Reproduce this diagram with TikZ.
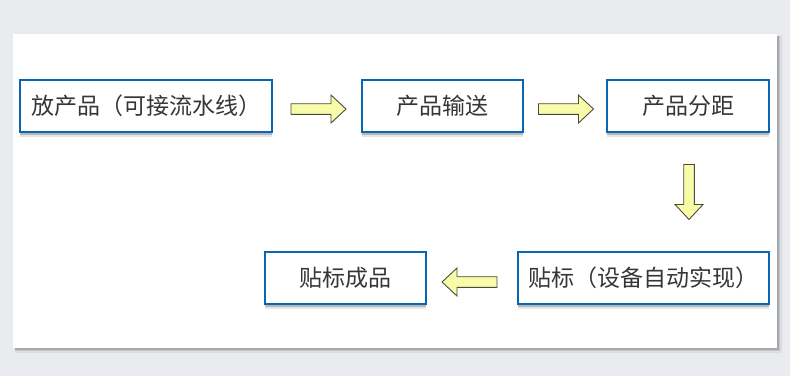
\documentclass[tikz,border=0pt]{standalone}
\usepackage{fontspec}
\setmainfont{Noto Sans CJK SC}
\usetikzlibrary{calc}
\definecolor{bgc}{HTML}{EAEBEF}
\definecolor{boxblue}{HTML}{0A66B2}
\definecolor{txt}{HTML}{363636}
\definecolor{arrfill}{HTML}{F8FCA8}
\definecolor{arredge}{HTML}{4A4A40}
\tikzset{
  stepbox/.style={draw=boxblue, line width=2pt, fill=white, text=txt,
    minimum height=52pt, inner sep=0pt,
    font=\fontsize{23}{28}\selectfont,
    preaction={fill=black, opacity=0.10, transform canvas={yshift=-5pt}},
    preaction={fill=black, opacity=0.20, transform canvas={yshift=-3pt}}},
  barrow/.pic={
    \draw[fill=arrfill, draw=arredge, line width=0.9pt, line join=miter]
      (-27.5,-5.3) -- (12.5,-5.3) -- (12.5,-14) -- (27.5,0) -- (12.5,14)
      -- (12.5,5.3) -- (-27.5,5.3) -- cycle;
  }
}
\begin{document}
\begin{tikzpicture}[x=1pt,y=-1pt]
\fill[bgc] (0,0) rectangle (790,376);
\useasboundingbox (0,0) rectangle (790,376);
% panel with shadow
\fill[black, opacity=0.06] (15,36) rectangle (782,353);
\fill[black, opacity=0.10] (15,36) rectangle (780,351);
\fill[black, opacity=0.15] (15,36) rectangle (779,350);
\fill[white] (13,34) rectangle (777,348);
% boxes
\node[stepbox, minimum width=252pt] (b1) at (146,106) {放产品（可接流水线）};
\node[stepbox, minimum width=161pt] (b2) at (442.5,106) {产品输送};
\node[stepbox, minimum width=162pt] (b3) at (688,106) {产品分距};
\node[stepbox, minimum width=251pt] (b5) at (643,278) {贴标（设备自动实现）};
\node[stepbox, minimum width=161pt] (b4) at (345,278) {贴标成品};
% arrows
\pic at ($(b1.east)!0.5!(b2.west)+(1.5,3)$) {barrow};
\pic at ($(b2.east)!0.5!(b3.west)+(1,3)$) {barrow};
\coordinate (a3) at ($(b3.south)!0.5!(b3.south |- b5.north)+(1,0)$);
\pic[rotate=-90] at (a3) {barrow};
\coordinate (a4) at ($(b5.west)!0.5!(b4.east)+(-2,4)$);
\pic[rotate=180] at (a4) {barrow};
\end{tikzpicture}
\end{document}
